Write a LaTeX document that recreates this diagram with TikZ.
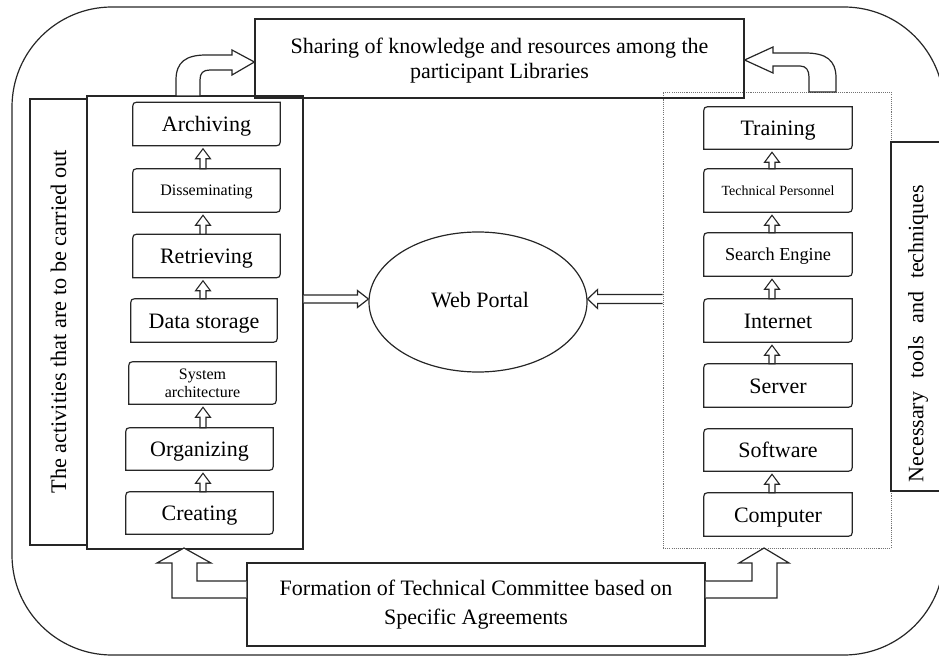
\documentclass[tikz,border=0pt]{standalone}
\usepackage{fontspec}
\setmainfont{Liberation Serif}
\usetikzlibrary{calc,shapes.geometric}
\newcommand\actshape[1]{%
  \draw[ln] (#1.south west) -- ($(#1.north west)+(0,8)$) .. controls (#1.north west) .. ($(#1.north west)+(8,0)$)
    -- (#1.north east) -- ($(#1.south east)+(0,-8)$) .. controls (#1.south east) .. ($(#1.south east)+(-8,0)$) -- cycle;}
\newcommand\smallup[3]{%
  \draw[ln,line width=0.8pt,fill=white] let \p1=(#3 |- #1.south), \p2=(#3 |- #2.north) in
  (\x1,\y1-2.25pt) -- (\x1+5.6pt,\y1-9.75pt) -- (\x1+2.25pt,\y1-9.75pt) -- (\x1+2.25pt,\y2)
  -- (\x1-2.25pt,\y2) -- (\x1-2.25pt,\y1-9.75pt) -- (\x1-5.6pt,\y1-9.75pt) -- cycle;}
\begin{document}
\begin{tikzpicture}[x=0.75pt,y=-0.75pt,
  ln/.style={draw=black!85,line width=0.9pt},
  big/.style={font=\fontsize{16.5}{19}\selectfont},
  act/.style={inner sep=0pt, minimum width=147*0.75pt, minimum height=43*0.75pt,
    text height=11.3pt, text depth=0pt, big},
  act2/.style={inner sep=0pt, minimum width=147*0.75pt, minimum height=42*0.75pt, align=center},
  plainbox/.style={ln, rectangle, inner sep=0pt},
  dotbox/.style={draw=black!55, line width=0.5pt, dash pattern=on 0.8pt off 0.8pt, inner sep=0pt}
]
\useasboundingbox (0,0) rectangle (939,656);
% outer frame
\draw[ln, rounded corners=75pt] (12,7) rectangle (944,655);

% right dotted tool box and label
\node[dotbox, minimum width=228*0.75pt, minimum height=456*0.75pt] (tools) at (777,320) {};
\node[plainbox, fill=white, minimum width=60*0.75pt, minimum height=349*0.75pt] (toollabel) at (921,316.5) {};
\node[rotate=90, big, inner sep=0pt] (tooltext) at (918,333.5) {Necessary\hspace{0.58em}tools\hspace{0.58em}and\hspace{0.58em}techniques};

% left label and activity box
\node[plainbox, rotate=90, minimum width=446*0.75pt, minimum height=57*0.75pt, font=\fontsize{16.7}{19}\selectfont] (actlabel) at (58.5,322) {The activities that are to be carried out};
\node[plainbox, fill=white, minimum width=216*0.75pt, minimum height=453*0.75pt] (inner) at (195,322.5) {};

% top and bottom boxes
\node[plainbox, minimum width=489*0.75pt, minimum height=79*0.75pt] (share) at (499.5,58.5) {};
\node[align=center, font=\fontsize{16.5}{18.75}\selectfont, inner sep=0pt] (sharetext) at (499.5,61) {Sharing of knowledge and resources among the\\participant Libraries};
\node[plainbox, minimum width=458*0.75pt, minimum height=83*0.75pt, align=center, font=\fontsize{16.5}{21.75}\selectfont] (form) at (476,604.5) {Formation of Technical Committee based on\\Specific Agreements};

% web portal
\node[ln, ellipse, minimum width=218*0.75pt, minimum height=140*0.75pt, inner sep=0pt, big] (portal) at (478,302) {};
\node[big, inner sep=0pt] (portaltext) at (480,300) {Web Portal};

% activity boxes (left)
\node[act] (arch) at (206.5,124) {Archiving};
\node[act, font=\fontsize{12}{14}\selectfont, text height=8.2pt] (diss) at (206.5,190.5) {Disseminating};
\node[act] (retr) at (206.5,256) {Retrieving};
\node[act, minimum width=146*0.75pt] (data) at (204,320.5) {Data storage};
\node[act2, font=\fontsize{12}{13.5}\selectfont] (sys) at (202.5,383) {System\\architecture};
\node[act, minimum height=42*0.75pt] (org) at (199.5,449) {Organizing};
\node[act, minimum height=42*0.75pt] (crea) at (199.5,513) {Creating};

% tool boxes (right)
\node[act, minimum width=148*0.75pt, minimum height=42*0.75pt] (train) at (778,128) {Training};
\node[act, minimum width=148*0.75pt, font=\fontsize{10.5}{12}\selectfont, text height=7.2pt] (tech) at (778,190.5) {Technical Personnel};
\node[act, minimum width=148*0.75pt, font=\fontsize{13.7}{16}\selectfont, text height=9.4pt] (search) at (778,254.5) {Search Engine};
\node[act, minimum width=148*0.75pt] (inet) at (778,320.5) {Internet};
\node[act, minimum width=148*0.75pt] (serv) at (778,385.5) {Server};
\node[act, minimum width=148*0.75pt, minimum height=42*0.75pt] (soft) at (778,450) {Software};
\node[act, minimum width=148*0.75pt] (comp) at (778,514.5) {Computer};

\foreach \n in {arch,diss,retr,data,sys,org,crea,train,tech,search,inet,serv,soft,comp} {\actshape{\n}}

% small up arrows
\coordinate (LX) at (203,0);
\coordinate (RX) at (772,0);
\smallup{arch}{diss}{LX}
\smallup{diss}{retr}{LX}
\smallup{retr}{data}{LX}
\smallup{sys}{org}{LX}
\smallup{org}{crea}{LX}
\smallup{train}{tech}{RX}
\smallup{tech}{search}{RX}
\smallup{search}{inet}{RX}
\smallup{inet}{serv}{RX}
\smallup{soft}{comp}{RX}

% arrows into the web portal
\coordinate (ay) at (0,299);
\draw[ln, fill=white] let \p1=(inner.east |- ay), \p2=(portal.west |- ay) in
  (\x1,\y1+3pt) -- (\x2-8.25pt,\y1+3pt) -- (\x2-8.25pt,\y1+6.4pt) -- (\x2,\y1)
  -- (\x2-8.25pt,\y1-6.4pt) -- (\x2-8.25pt,\y1-3pt) -- (\x1,\y1-3pt);
\draw[ln, fill=white] let \p1=(tools.west |- ay), \p2=(portal.east |- ay) in
  (\x1,\y1+3.4pt) -- (\x2+7.5pt,\y1+3.4pt) -- (\x2+7.5pt,\y1+7.1pt) -- (\x2,\y1)
  -- (\x2+7.5pt,\y1-7.1pt) -- (\x2+7.5pt,\y1-3.4pt) -- (\x1,\y1-3.4pt);

% curved arrows to the sharing box
\draw[ln, fill=white] (176,96) -- (176,80) .. controls (176,62) and (186,55) .. (206,55)
  -- (232,55) -- (232,50) -- (share.west |- 0,62) -- (232,75) -- (232,70) -- (210,70)
  .. controls (203,70) and (200,73) .. (200,80) -- (200,96) -- cycle;
\draw[ln, fill=white] (836,92) -- (836,78) .. controls (836,60) and (826,53) .. (805,53)
  -- (773,53) -- (773,47) -- (share.east |- 0,60) -- (773,73) -- (773,66) -- (800,66)
  .. controls (806,66) and (809,70) .. (809,77) -- (809,92) -- cycle;

% elbow arrows from the committee box
\draw[ln, fill=white] (form.west |- 0,581) -- (197,581) -- (197,563) -- (211,563) -- (184,548)
  -- (157,563) -- (172,563) -- (172,598) -- (form.west |- 0,598);
\draw[ln, fill=white] (form.east |- 0,581) -- (752,581) -- (752,563) -- (739,563) -- (764,548)
  -- (789,563) -- (777,563) -- (777,598) -- (form.east |- 0,598);
\end{tikzpicture}
\end{document}
